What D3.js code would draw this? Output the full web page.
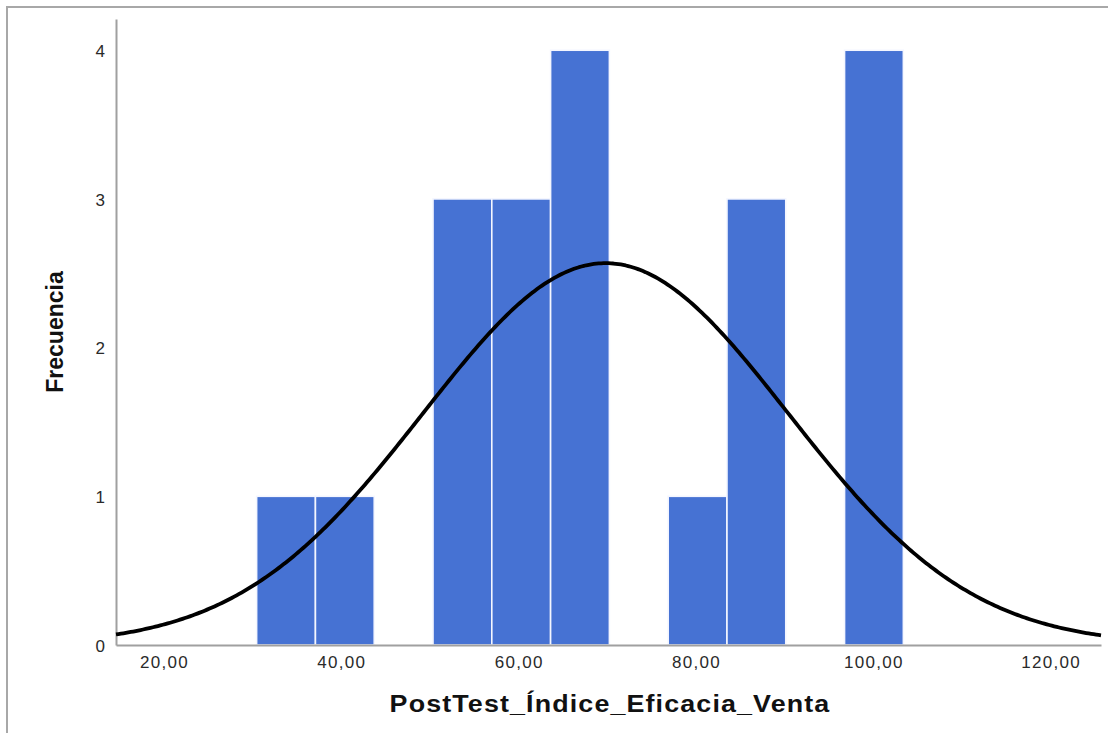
<!DOCTYPE html>
<html>
<head>
<meta charset="utf-8">
<script src="https://cdn.jsdelivr.net/npm/d3@7"></script>
<style>
  html, body { margin: 0; padding: 0; background: #fff; }
  svg { display: block; }
</style>
</head>
<body>
<svg id="chart" width="1108" height="733"></svg>
<script>
// Histogram bins: lower edge of the first bin and the common bin width
const binStart = 30.45;
const binWidth = 6.63;
// Frequency of each bin, left to right
const frequencies = [1, 1, 0, 3, 3, 4, 0, 1, 3, 0, 4];
// Axis ticks
const xTickValues = [20, 40, 60, 80, 100, 120];
const yTickValues = [0, 1, 2, 3, 4];
// Fitted normal curve
const curveMean = 69.8;
const curveSD = 20.6;
const sampleSize = 20;

const xTitle = "PostTest_Índice_Eficacia_Venta";
const yTitle = "Frecuencia";

const svg = d3.select("#chart");
const W = 1108, H = 733;

svg.append("rect").attr("width", W).attr("height", H).attr("fill", "#fff");

// outer frame (left and top edges)
svg.append("path")
  .attr("d", `M7,${H}V7H${W}`)
  .attr("fill", "none")
  .attr("stroke", "#a8a8a8")
  .attr("stroke-width", 2);

const x = d3.scaleLinear().domain([14.59, 125.67]).range([116, 1101]);
const y = d3.scaleLinear().domain([0, 4.21]).range([645, 19]);

const bins = frequencies.map((f, i) => ({
  x0: binStart + i * binWidth,
  x1: binStart + (i + 1) * binWidth,
  f
}));

// bars
svg.append("g")
  .selectAll("rect")
  .data(bins.filter(d => d.f > 0))
  .join("rect")
  .attr("x", d => x(d.x0))
  .attr("width", d => x(d.x1) - x(d.x0))
  .attr("y", d => y(d.f))
  .attr("height", d => y(0) - y(d.f))
  .attr("fill", "#4672d3")
  .attr("stroke", "#f4f6ff")
  .attr("stroke-width", 1.6);

// axes
const fmt = v => d3.format(".2f")(v).replace(".", ",");

const gx = svg.append("g")
  .attr("transform", `translate(0,${y(0)})`)
  .call(d3.axisBottom(x).tickValues(xTickValues).tickSize(0).tickSizeOuter(0).tickFormat(fmt));
gx.select(".domain").attr("stroke", "#a0a0a0").attr("stroke-width", 2);
gx.selectAll(".tick text")
  .attr("y", 23).attr("dy", 0)
  .attr("fill", "#2a2a2a")
  .style("font-family", "'Liberation Sans', Arial, sans-serif")
  .style("font-size", "17px")
  .style("letter-spacing", "1.3px");

const gy = svg.append("g")
  .attr("transform", `translate(${x.range()[0]},0)`)
  .call(d3.axisLeft(y).tickValues(yTickValues).tickSize(0).tickSizeOuter(0).tickPadding(11).tickFormat(d3.format("d")));
gy.select(".domain").attr("stroke", "#a0a0a0").attr("stroke-width", 2);
gy.selectAll(".tick text")
  .attr("dy", "0.36em")
  .attr("fill", "#2a2a2a")
  .style("font-family", "'Liberation Sans', Arial, sans-serif")
  .style("font-size", "17px");

// normal curve scaled to counts: N * binWidth * pdf
const pdf = v => Math.exp(-0.5 * ((v - curveMean) / curveSD) ** 2) / (curveSD * Math.sqrt(2 * Math.PI));
const [d0, d1] = x.domain();
const curvePts = d3.range(0, 401).map(i => d0 + (d1 - d0) * i / 400);
svg.append("path")
  .datum(curvePts)
  .attr("d", d3.line().x(v => x(v)).y(v => y(sampleSize * binWidth * pdf(v))))
  .attr("fill", "none")
  .attr("stroke", "#000")
  .attr("stroke-width", 3.8)
  .attr("stroke-linejoin", "round");

// axis titles (x title drawn slightly widened)
svg.append("text")
  .attr("transform", "translate(610,712) scale(1.12,1)")
  .attr("text-anchor", "middle")
  .attr("fill", "#111")
  .style("font-family", "'Liberation Sans', Arial, sans-serif")
  .style("font-weight", "bold")
  .style("font-size", "24px")
  .style("letter-spacing", "1px")
  .text(xTitle);

svg.append("text")
  .attr("transform", "translate(63,332) rotate(-90)")
  .attr("text-anchor", "middle")
  .attr("fill", "#111")
  .style("font-family", "'Liberation Sans', Arial, sans-serif")
  .style("font-weight", "bold")
  .style("font-size", "23px")
  .text(yTitle);
</script>
</body>
</html>
